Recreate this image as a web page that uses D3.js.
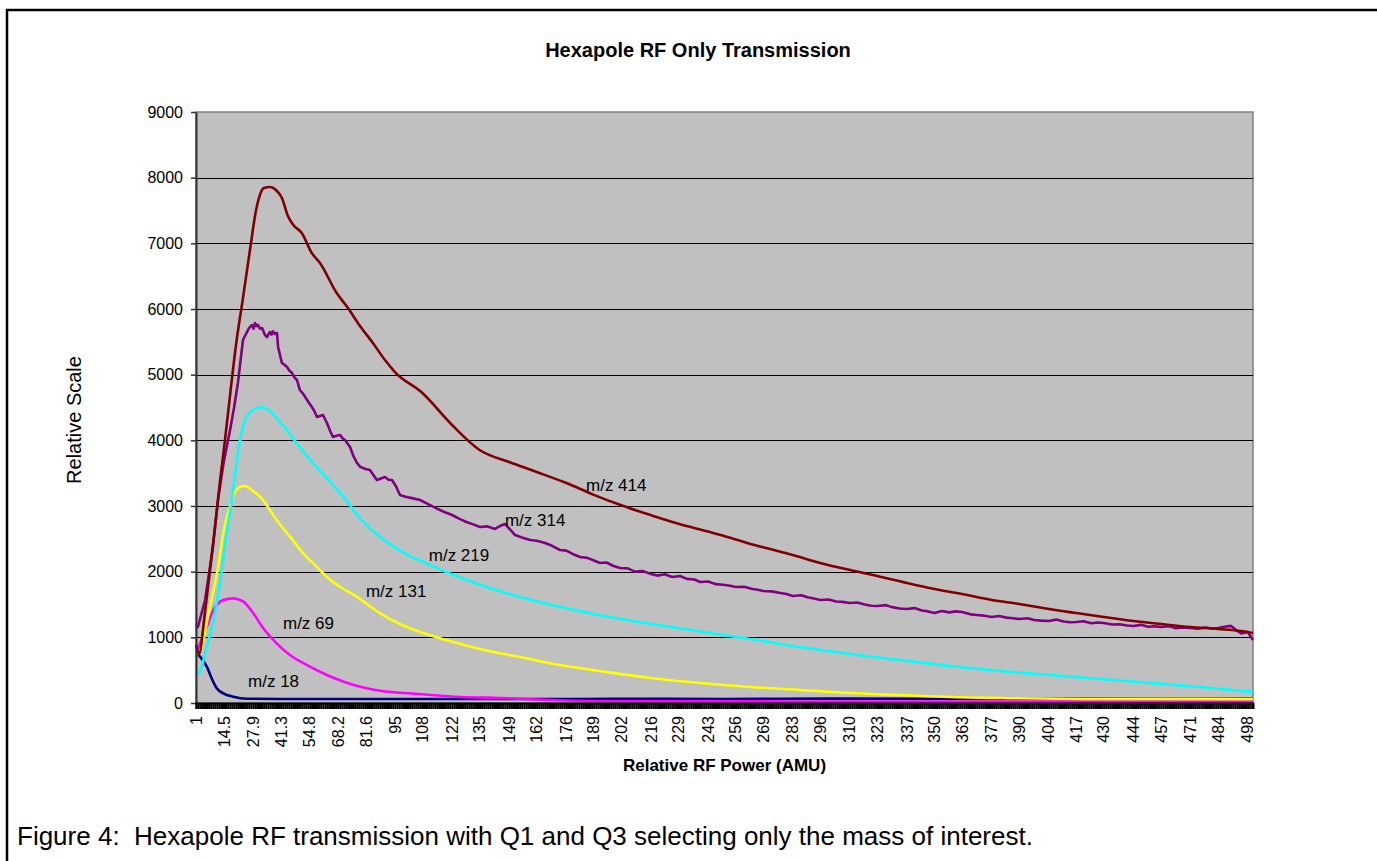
<!DOCTYPE html>
<html>
<head>
<meta charset="utf-8">
<script src="https://cdn.jsdelivr.net/npm/d3@7"></script>
<style>
  body { margin: 0; background: #fff; }
  svg text { font-family: "Liberation Sans", Arial, sans-serif; fill: #000; }
</style>
</head>
<body>
<svg id="chart" width="1377" height="861"></svg>
<script>
// ---- data -------------------------------------------------------------
const xTickLabels = ["1","14.5","27.9","41.3","54.8","68.2","81.6","95","108","122","135","149",
  "162","176","189","202","216","229","243","256","269","283","296","310","323","337","350",
  "363","377","390","404","417","430","444","457","471","484","498"];
const yTickValues = [0,1000,2000,3000,4000,5000,6000,7000,8000,9000];

// [RF power, relative signal]
const mz18 = [[1.3,757],[2.9,705],[6.1,553],[8.4,376],[10.8,224],[13.9,148],[18.6,96],[24.9,65],
  [40.7,61],[80,60],[120,62],[160,60],[200,64],[250,62],[300,66],[350,64],[400,66],[450,64],[500.5,66]];
const mz69 = [[1.6,807],[6.1,1162],[9.2,1416],[13.9,1568],[18.6,1594],[23.4,1543],[28.1,1366],
  [32.8,1138],[39.1,909],[45.4,731],[53.3,579],[62.8,426],[72.2,309],[81.7,224],[88,187],
  [106.9,137],[125.8,91],[144.7,76],[168.3,46],[191.9,30],[286.4,23],[500.5,20]];
const mz131 = [[1.3,781],[2.1,746],[7.6,1467],[11.5,2076],[13.9,2589],[17.1,3000],[18.6,3140],
  [20,3240],[21.8,3294],[24.2,3305],[27.3,3244],[32,3117],[39.1,2787],[45.4,2533],[51.7,2279],
  [58,2076],[62.7,1923],[69,1771],[76.9,1619],[88,1366],[97.4,1203],[106.9,1081],[121,944],
  [135.2,822],[154.1,700],[173,579],[191.9,487],[215.6,381],[239.2,305],[262.8,244],[286.5,198],
  [310.1,152],[333.7,122],[357.3,91],[381,76],[428.2,61],[500.5,61]];
const mz219 = [[1.3,477],[2.1,452],[6.1,857],[9.2,1264],[12.3,1827],[15.5,2584],[17.9,3091],
  [21.8,4005],[25,4360],[28.1,4462],[32,4503],[35.2,4462],[39.1,4335],[43.9,4157],[48.6,3955],
  [56.4,3650],[64.3,3370],[70.6,3142],[78.5,2817],[88,2528],[97.4,2320],[111.6,2100],
  [125.8,1910],[139.9,1750],[154.1,1615],[168.3,1500],[191.9,1336],[215.6,1208],[239.2,1090],
  [262.8,975],[286.4,853],[310.1,746],[333.7,655],[357.3,563],[381,487],[404.6,426],
  [428.2,365],[451.8,305],[475.5,244],[500.5,167]];
const mz314 = [[1,1188],[1.9,1157],[5.3,1568],[9,2376],[11.4,3091],[14,3650],[17.1,4157],[19,4500],
  [20.8,4873],[22,5200],[23.2,5528],[25.1,5650],[26.3,5720],[27.5,5756],[28.2,5700],[28.9,5787],
  [29.6,5740],[30.3,5760],[31.2,5700],[32.2,5711],[33.6,5604],[34.6,5573],[35.3,5620],[36,5650],
  [36.7,5610],[37.4,5660],[38.3,5620],[39.3,5634],[39.8,5421],[40.7,5300],[41.6,5178],[42.8,5150],
  [44,5117],[45.2,5060],[46.4,5025],[47.5,4960],[48.7,4919],[50.1,4766],[51.8,4700],[53.5,4614],
  [54.6,4560],[55.8,4507],[57,4440],[58.2,4355],[59.6,4370],[61,4386],[62.9,4264],[64.3,4150],
  [65.7,4051],[67.4,4070],[69.1,4081],[70.3,4030],[71.4,4005],[73.8,3898],[75.4,3760],[77.1,3655],
  [78.5,3600],[79.9,3579],[81.5,3560],[83.2,3548],[84.9,3470],[86.5,3396],[88.4,3420],[90.3,3442],
  [92,3400],[93.6,3396],[95.5,3300],[97.4,3167],[100,3140],[103,3120],[106.9,3091],[110,3040],
  [113,2990],[116.3,2939],[119,2900],[122,2863],[125.8,2800],[128.5,2760],[132,2720],[135.2,2680],
  [138.5,2690],[142.3,2650],[145,2700],[147,2726],[149.5,2640],[151.8,2558],[155,2520],[158.9,2482],
  [162,2470],[166,2436],[169.5,2390],[173,2330],[176,2320],[179,2270],[182.5,2223],[186,2210],
  [189,2170],[191.9,2132],[195,2140],[198,2090],[201.4,2056],[205,2050],[208.5,2000],[212,2010],
  [215.5,1970],[219,1940],[222.5,1960],[226,1920],[229.7,1934],[233,1890],[236.5,1880],[239.2,1843],
  [243,1850],[246.5,1810],[250,1800],[253.5,1785],[256,1766],[260,1770],[263.5,1740],[267,1720],
  [269,1706],[273,1700],[276.5,1680],[280,1660],[283,1630],[287,1640],[290,1610],[293,1590],
  [296,1568],[300,1575],[303.5,1545],[306.5,1540],[310,1523],[313.5,1530],[317,1500],[320,1480],
  [323,1477],[327,1490],[330,1460],[333.5,1440],[337,1431],[340.5,1445],[344,1410],[347,1395],
  [350,1370],[353.5,1400],[357,1380],[360,1395],[363,1386],[367,1350],[370,1340],[373.5,1330],
  [377,1310],[380.5,1325],[384,1300],[387,1290],[390,1279],[394,1290],[397,1265],[400.5,1255],
  [404,1249],[407.5,1270],[411,1240],[414,1230],[417,1234],[420.5,1245],[424,1215],[427,1225],
  [430,1218],[434,1195],[437.5,1200],[441,1180],[444,1173],[447.5,1190],[451,1160],[454,1170],
  [457,1157],[461,1170],[464,1140],[467.5,1150],[471,1142],[474.5,1130],[478,1150],[481,1135],
  [484,1142],[487,1160],[490,1175],[492.5,1110],[495,1060],[498,1081],[500.5,959]];
const mz414 = [[1,883],[2.42,746],[5.25,1386],[7.62,2025],[9.98,2680],[12.3,3365],[14.7,4005],
  [17.1,4690],[19.9,5452],[23.2,6168],[26.5,6898],[29.4,7507],[31.2,7736],[33.1,7842],[36,7858],
  [38.8,7812],[41.6,7690],[44.6,7405],[47,7279],[51,7157],[55.7,6853],[59.6,6700],[67.5,6243],
  [72.8,6015],[78.5,5741],[84.6,5482],[90.3,5223],[95,5040],[108,4720],[122,4233],[135,3853],
  [149,3670],[162,3518],[176,3350],[189,3170],[202,3010],[216,2860],[229,2730],[243,2610],
  [256,2490],[269,2370],[283,2254],[296,2132],[310,2025],[323,1934],[337,1827],[350,1736],
  [363,1660],[377,1568],[390,1508],[404,1431],[417,1370],[430,1310],[444,1249],[457,1203],
  [471,1157],[484,1127],[498,1081],[500.5,1066]];

const seriesNames = ["m/z 18","m/z 69","m/z 131","m/z 219","m/z 314","m/z 414"];
const seriesValues = [mz18, mz69, mz131, mz219, mz314, mz414];
const seriesColors = ["#000080","#FF00FF","#FFFF00","#00FFFF","#800080","#800000"];
// the m/z 314 trace is plotted point to point to keep its scan noise
const seriesSmooth = [true, true, true, true, false, true];
// where each series name sits, in data units (left edge, vertical middle)
const labelAnchors = [[25.6,335],[42.1,1218],[81.3,1706],[111,2254],[147,2787],[185.3,3320]];

// ---- layout -----------------------------------------------------------
const svg = d3.select("#chart");
const plot = { left: 196, right: 1253, top: 112, bottom: 703 };

const x = d3.scaleLinear().domain([1, 500.5]).range([plot.left, plot.right]);
const y = d3.scaleLinear().domain([0, 9000]).range([plot.bottom, plot.top]);

// outer frame
svg.append("rect")
  .attr("x", 7).attr("y", 10).attr("width", 1420).attr("height", 900)
  .attr("fill", "none").attr("stroke", "#000").attr("stroke-width", 2.5);

// chart title
svg.append("text")
  .attr("x", 698).attr("y", 57).attr("text-anchor", "middle")
  .style("font-size", "20px").style("font-weight", "bold")
  .text("Hexapole RF Only Transmission");

// plot area
svg.append("rect")
  .attr("x", plot.left).attr("y", plot.top)
  .attr("width", plot.right - plot.left).attr("height", plot.bottom - plot.top)
  .attr("fill", "#C0C0C0").attr("stroke", "#808080").attr("stroke-width", 1.5);

// horizontal gridlines
svg.append("g")
  .selectAll("line")
  .data(yTickValues.filter(v => v > 0 && v < 9000))
  .join("line")
  .attr("x1", plot.left).attr("x2", plot.right)
  .attr("y1", d => Math.round(y(d)) + 0.5).attr("y2", d => Math.round(y(d)) + 0.5)
  .attr("stroke", "#000").attr("stroke-width", 1);

// series lines
const smoothLine = d3.line().x(d => x(d[0])).y(d => y(d[1])).curve(d3.curveMonotoneX);
const rawLine = d3.line().x(d => x(d[0])).y(d => y(d[1]));
svg.append("g")
  .selectAll("path")
  .data(seriesValues)
  .join("path")
  .attr("d", (d, i) => (seriesSmooth[i] ? smoothLine : rawLine)(d))
  .attr("fill", "none")
  .attr("stroke", (d, i) => seriesColors[i])
  .attr("stroke-width", 2.6)
  .attr("stroke-linejoin", "round");

// series names
svg.append("g")
  .selectAll("text")
  .data(seriesNames)
  .join("text")
  .attr("x", (d, i) => x(labelAnchors[i][0]))
  .attr("y", (d, i) => y(labelAnchors[i][1]))
  .attr("dy", "0.35em")
  .style("font-size", "17px")
  .text(d => d);

// y axis
const yAxis = svg.append("g")
  .attr("transform", `translate(${plot.left},0)`)
  .call(d3.axisLeft(y).tickValues(yTickValues).tickFormat(d3.format("d"))
    .tickSize(5).tickPadding(8).tickSizeOuter(0));
yAxis.select(".domain").attr("stroke", "#333").attr("stroke-width", 2);
yAxis.selectAll(".tick line").attr("stroke", "#333").attr("stroke-width", 1.5);
yAxis.selectAll("text").style("font-size", "16px").attr("fill", "#000");

// x axis: one tick mark per category, packed into a dense band
const xBand = svg.append("g")
  .attr("transform", `translate(0,${plot.bottom})`)
  .call(d3.axisBottom(x).tickValues(d3.range(1, 501, 1)).tickSize(6).tickFormat(""));
xBand.select(".domain").attr("stroke", "#000").attr("stroke-width", 2);
xBand.selectAll(".tick line").attr("stroke", "#000").attr("stroke-width", 2.2);

// x tick labels, rotated
svg.append("g")
  .selectAll("text")
  .data(xTickLabels)
  .join("text")
  .attr("transform", d => `translate(${x(+d)},716) rotate(-90)`)
  .attr("text-anchor", "end")
  .attr("dy", "0.35em")
  .style("font-size", "16px")
  .text(d => d);

// axis titles
svg.append("text")
  .attr("x", (plot.left + plot.right) / 2).attr("y", 771)
  .attr("text-anchor", "middle")
  .style("font-size", "17px").style("font-weight", "bold")
  .text("Relative RF Power (AMU)");

svg.append("text")
  .attr("transform", "translate(81,420) rotate(-90)")
  .attr("text-anchor", "middle")
  .style("font-size", "20px")
  .text("Relative Scale");

// figure caption
svg.append("text")
  .attr("x", 17).attr("y", 845)
  .style("font-size", "26px")
  .style("white-space", "pre")
  .text("Figure 4:  Hexapole RF transmission with Q1 and Q3 selecting only the mass of interest.");
</script>
</body>
</html>
